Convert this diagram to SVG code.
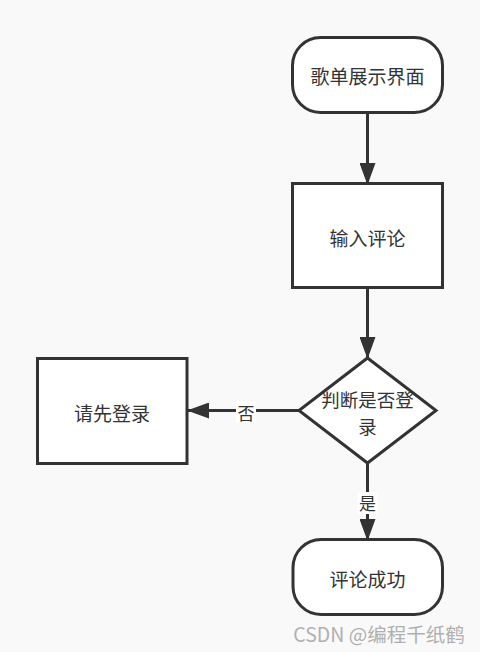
<svg xmlns="http://www.w3.org/2000/svg" width="480" height="652" viewBox="0 0 480 652">
<style>
.shape{fill:#ffffff;stroke:#333333;stroke-width:3}
.label{font-family:"Microsoft YaHei","Noto Sans CJK SC","Liberation Sans",sans-serif;font-size:19px;fill:#333333;text-anchor:middle;dominant-baseline:central}
.edge{fill:none;stroke:#333333;stroke-width:3}
.elabel{font-family:"Noto Sans CJK SC","Liberation Sans",sans-serif;font-size:17px;fill:#333333;text-anchor:middle;dominant-baseline:central}
</style>
<defs>
<marker id="arrow" markerUnits="userSpaceOnUse" markerWidth="22" markerHeight="16" refX="21" refY="8" viewBox="0 0 22 16" orient="auto">
<path d="M0,0 L22,8 L0,16 Z" fill="#333333"/>
</marker>
</defs>
<rect width="480" height="652" fill="#f9f9f9"/>
<g id="connectors">
<line class="edge" x1="367.5" y1="113" x2="367.5" y2="184" marker-end="url(#arrow)"/>
<line class="edge" x1="367.5" y1="288" x2="367.5" y2="358" marker-end="url(#arrow)"/>
<line class="edge" x1="299" y1="410.5" x2="188" y2="410.5" marker-end="url(#arrow)"/>
<line class="edge" x1="367.5" y1="463" x2="367.5" y2="540" marker-end="url(#arrow)"/>
<rect x="236" y="401" width="20" height="22" fill="#ffffff"/>
<text class="elabel" x="246" y="412">否</text>
<rect x="357.5" y="492" width="20" height="22" fill="#ffffff"/>
<text class="elabel" x="367.5" y="502">是</text>
</g>
<g id="start">
<rect class="shape" x="292.5" y="37.5" width="150" height="75" rx="28" ry="28"/>
<text class="label" x="367.5" y="75">歌单展示界面</text>
</g>
<g id="input">
<rect class="shape" x="292.5" y="183.5" width="150" height="104"/>
<text class="label" x="367.5" y="237">输入评论</text>
</g>
<g id="decision">
<polygon class="shape" points="367.5,358 436,410.5 367.5,463 299,410.5"/>
<text class="label" x="367.5" y="399" style="font-size:18.5px">判断是否登</text>
<text class="label" x="367.5" y="426" style="font-size:18.5px">录</text>
</g>
<g id="login">
<rect class="shape" x="37.5" y="358.5" width="149.5" height="105"/>
<text class="label" x="112" y="412">请先登录</text>
</g>
<g id="success">
<rect class="shape" x="293" y="539.5" width="149.5" height="75" rx="28" ry="28"/>
<text class="label" x="367.5" y="578">评论成功</text>
</g>
<text x="379" y="633" font-family="Microsoft YaHei,'Noto Sans CJK SC','Liberation Sans',sans-serif" font-size="19.5" fill="#b0b0b0" text-anchor="middle" dominant-baseline="central">CSDN @编程千纸鹤</text>
</svg>
